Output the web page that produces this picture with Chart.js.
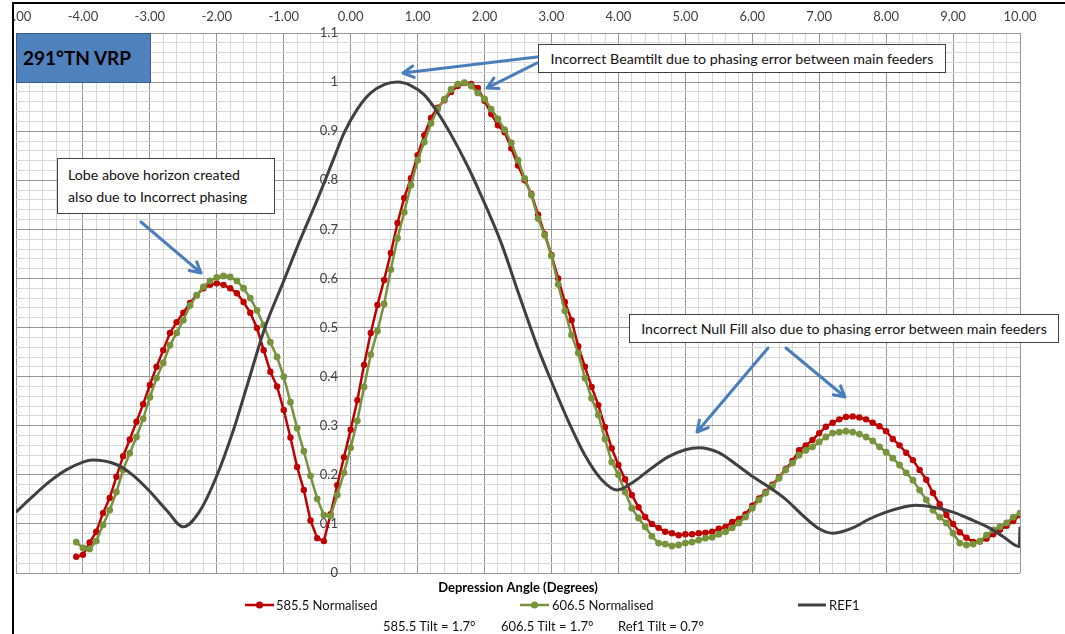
<!DOCTYPE html>
<html>
<head>
<meta charset="utf-8">
<title>291°TN VRP</title>
<script src="https://cdn.jsdelivr.net/npm/chart.js@4.4.1/dist/chart.umd.min.js"></script>
<style>
  html, body { margin: 0; padding: 0; background: #fff; }
  body { width: 1065px; height: 634px; overflow: hidden; position: relative; font-family: Lato, 'Open Sans', sans-serif; }
  #frame { position: absolute; left: 12px; top: 2px; width: 1060px; height: 640px; border-left: 2px solid #000; border-top: 2px solid #000; overflow: hidden; }
  #stage { position: absolute; left: -14px; top: -4px; width: 1065px; height: 634px; }
  #chart { position: absolute; left: 0; top: 0; }
  #overlay { position: absolute; left: 0; top: 0; pointer-events: none; }
  .box { position: absolute; background: #fff; border: 1px solid #404040; color: #111; font-size: 14.2px; white-space: nowrap; box-sizing: border-box; }
  .lbl { position: absolute; font-size: 13px; color: #111; white-space: nowrap; line-height: 16px; }
  #title { position: absolute; left: 16px; top: 33px; width: 135px; height: 50px; box-sizing: border-box;
           background: #4F81BD; border: 1px solid #385D8A; font-weight: bold; font-size: 19px; color: #000;
           line-height: 48px; padding-left: 6px; white-space: nowrap; }
</style>
</head>
<body>
<div id="frame">
  <div id="stage">
    <canvas id="chart" width="1065" height="634"></canvas>
    <div id="title">291°TN VRP</div>
    <div class="box" style="left:538px; top:44px; width:408px; height:29px; line-height:27px; text-align:center;">Incorrect Beamtilt due to phasing error between main feeders</div>
    <div class="box" style="left:57px; top:158px; width:218px; height:56px; line-height:22px; padding:5px 0 0 10px;">Lobe above horizon created<br>also due to Incorrect phasing</div>
    <div class="box" style="left:629px; top:314px; width:430px; height:29px; line-height:27px; text-align:center;">Incorrect Null Fill also due to phasing error between main feeders</div>
    <svg id="overlay" width="1065" height="634"></svg>
    <div class="lbl" style="left:276px; top:597px;">585.5 Normalised</div>
    <div class="lbl" style="left:552px; top:597px;">606.5 Normalised</div>
    <div class="lbl" style="left:829px; top:597px;">REF1</div>
    <div class="lbl" style="left:383px; top:618px;">585.5 Tilt = 1.7°</div>
    <div class="lbl" style="left:501px; top:618px;">606.5 Tilt = 1.7°</div>
    <div class="lbl" style="left:618px; top:618px;">Ref1 Tilt = 0.7°</div>
  </div>
</div>
<script>
// depression angles of the measured patterns (0.1 deg steps)
const angles = [
  -4.1, -4.0, -3.9, -3.8, -3.7, -3.6, -3.5, -3.4, -3.3, -3.2,
  -3.1, -3.0, -2.9, -2.8, -2.7, -2.6, -2.5, -2.4, -2.3, -2.2,
  -2.1, -2.0, -1.9, -1.8, -1.7, -1.6, -1.5, -1.4, -1.3, -1.2,
  -1.1, -1.0, -0.9, -0.8, -0.7, -0.6, -0.5, -0.4, -0.3, -0.2,
  -0.1, 0.0, 0.1, 0.2, 0.3, 0.4, 0.5, 0.6, 0.7, 0.8,
  0.9, 1.0, 1.1, 1.2, 1.3, 1.4, 1.5, 1.6, 1.7, 1.8,
  1.9, 2.0, 2.1, 2.2, 2.3, 2.4, 2.5, 2.6, 2.7, 2.8,
  2.9, 3.0, 3.1, 3.2, 3.3, 3.4, 3.5, 3.6, 3.7, 3.8,
  3.9, 4.0, 4.1, 4.2, 4.3, 4.4, 4.5, 4.6, 4.7, 4.8,
  4.9, 5.0, 5.1, 5.2, 5.3, 5.4, 5.5, 5.6, 5.7, 5.8,
  5.9, 6.0, 6.1, 6.2, 6.3, 6.4, 6.5, 6.6, 6.7, 6.8,
  6.9, 7.0, 7.1, 7.2, 7.3, 7.4, 7.5, 7.6, 7.7, 7.8,
  7.9, 8.0, 8.1, 8.2, 8.3, 8.4, 8.5, 8.6, 8.7, 8.8,
  8.9, 9.0, 9.1, 9.2, 9.3, 9.4, 9.5, 9.6, 9.7, 9.8,
  9.9, 10.0
];

// 585.5 Normalised
const norm585 = [
  0.033, 0.037, 0.062, 0.084, 0.122, 0.153, 0.196, 0.238, 0.272, 0.308,
  0.344, 0.383, 0.420, 0.454, 0.489, 0.511, 0.530, 0.550, 0.566, 0.580,
  0.587, 0.590, 0.587, 0.580, 0.570, 0.552, 0.530, 0.499, 0.454, 0.410,
  0.380, 0.332, 0.276, 0.216, 0.169, 0.107, 0.071, 0.065, 0.120, 0.179,
  0.236, 0.292, 0.352, 0.424, 0.489, 0.546, 0.597, 0.652, 0.713, 0.764,
  0.804, 0.851, 0.892, 0.927, 0.948, 0.963, 0.980, 0.992, 0.998, 0.996,
  0.988, 0.962, 0.935, 0.912, 0.898, 0.865, 0.830, 0.800, 0.772, 0.730,
  0.690, 0.648, 0.600, 0.552, 0.515, 0.462, 0.420, 0.379, 0.342, 0.297,
  0.254, 0.220, 0.191, 0.159, 0.134, 0.114, 0.100, 0.092, 0.084, 0.081,
  0.077, 0.079, 0.079, 0.081, 0.082, 0.084, 0.090, 0.094, 0.104, 0.110,
  0.120, 0.137, 0.152, 0.165, 0.180, 0.195, 0.212, 0.228, 0.250, 0.260,
  0.271, 0.285, 0.298, 0.306, 0.313, 0.318, 0.319, 0.317, 0.313, 0.306,
  0.299, 0.289, 0.273, 0.260, 0.245, 0.230, 0.210, 0.190, 0.163, 0.140,
  0.118, 0.100, 0.083, 0.072, 0.063, 0.064, 0.070, 0.079, 0.088, 0.096,
  0.106, 0.118
];

// 606.5 Normalised
const norm606 = [
  0.063, 0.051, 0.049, 0.065, 0.098, 0.128, 0.165, 0.210, 0.244, 0.277,
  0.314, 0.358, 0.397, 0.428, 0.464, 0.489, 0.515, 0.545, 0.566, 0.583,
  0.595, 0.602, 0.605, 0.603, 0.595, 0.580, 0.560, 0.535, 0.505, 0.470,
  0.440, 0.400, 0.348, 0.295, 0.248, 0.198, 0.151, 0.118, 0.116, 0.159,
  0.204, 0.255, 0.310, 0.379, 0.445, 0.493, 0.548, 0.618, 0.682, 0.735,
  0.790, 0.841, 0.878, 0.916, 0.945, 0.965, 0.985, 0.996, 0.999, 0.992,
  0.978, 0.966, 0.945, 0.925, 0.903, 0.876, 0.841, 0.804, 0.770, 0.722,
  0.688, 0.646, 0.588, 0.534, 0.485, 0.448, 0.397, 0.356, 0.322, 0.273,
  0.226, 0.200, 0.165, 0.132, 0.112, 0.094, 0.075, 0.061, 0.059, 0.055,
  0.057, 0.061, 0.063, 0.067, 0.071, 0.073, 0.079, 0.084, 0.092, 0.102,
  0.114, 0.132, 0.149, 0.163, 0.177, 0.193, 0.210, 0.224, 0.240, 0.250,
  0.257, 0.267, 0.277, 0.285, 0.287, 0.289, 0.287, 0.283, 0.277, 0.269,
  0.257, 0.246, 0.234, 0.220, 0.204, 0.189, 0.169, 0.149, 0.128, 0.114,
  0.102, 0.081, 0.061, 0.057, 0.059, 0.065, 0.077, 0.088, 0.094, 0.102,
  0.114, 0.122
];

// REF1 (smooth reference pattern)
const refAngles = [
  -5.0, -4.75, -4.5, -4.25, -4.0, -3.86, -3.5, -3.25, -3.0, -2.75,
  -2.5, -2.25, -2.0, -1.75, -1.54, -1.28, -1.0, -0.75, -0.5, -0.25,
  -0.1, 0.1, 0.3, 0.5, 0.7, 0.9, 1.1, 1.29, 1.5, 1.75,
  1.93, 2.25, 2.5, 2.81, 3.0, 3.25, 3.5, 3.75, 3.98, 4.25,
  4.5, 4.75, 5.0, 5.2, 5.5, 5.75, 6.0, 6.25, 6.5, 6.75,
  7.0, 7.2, 7.5, 7.75, 8.0, 8.25, 8.44, 8.75, 9.0, 9.25,
  9.54, 9.75, 9.99, 10.0
];
const refValues = [
  0.124, 0.156, 0.186, 0.210, 0.226, 0.230, 0.221, 0.199, 0.166, 0.128,
  0.094, 0.127, 0.198, 0.292, 0.385, 0.500, 0.595, 0.680, 0.760, 0.845,
  0.896, 0.945, 0.978, 0.995, 1.000, 0.993, 0.974, 0.940, 0.893, 0.828,
  0.775, 0.672, 0.573, 0.454, 0.390, 0.310, 0.240, 0.190, 0.169, 0.188,
  0.214, 0.237, 0.251, 0.255, 0.245, 0.222, 0.197, 0.175, 0.150, 0.118,
  0.090, 0.081, 0.092, 0.110, 0.124, 0.134, 0.138, 0.133, 0.124, 0.110,
  0.092, 0.074, 0.054, 0.094
];

// annotation arrows, page pixels [x1, y1, x2, y2]
const arrows = [
  [537, 57, 403, 73],
  [537, 63, 487, 88],
  [141, 222, 201, 273],
  [768, 348, 697, 432],
  [786, 348, 845, 397]
];

const RED = '#C00000';
const GREEN = '#77933C';
const GREY = '#404040';

const isWhole = (v) => Math.abs(v - Math.round(v)) < 1e-6;
const isTenth = (v) => Math.abs(v * 10 - Math.round(v * 10)) < 1e-6;
const pairs = (xs, ys) => xs.map((x, i) => ({ x, y: ys[i] }));

function drawOverlay() {
  const svg = document.getElementById('overlay');
  let html = '';
  arrows.forEach(([x1, y1, x2, y2]) => {
    const a = Math.atan2(y2 - y1, x2 - x1), L = 12, w = 0.5;
    const p1 = [x2 - L * Math.cos(a - w), y2 - L * Math.sin(a - w)];
    const p2 = [x2 - L * Math.cos(a + w), y2 - L * Math.sin(a + w)];
    html += `<path d="M${x1},${y1} L${x2},${y2} M${p1[0]},${p1[1]} L${x2},${y2} L${p2[0]},${p2[1]}"
      fill="none" stroke="#4A7EBB" stroke-width="3" stroke-linecap="round" stroke-linejoin="round"/>`;
  });
  // legend symbols
  html += `<line x1="245" y1="605" x2="274" y2="605" stroke="${RED}" stroke-width="2.5"/>
           <circle cx="259.5" cy="605" r="3.5" fill="${RED}"/>
           <line x1="520" y1="605" x2="549" y2="605" stroke="${GREEN}" stroke-width="2.5"/>
           <circle cx="534.5" cy="605" r="3.5" fill="${GREEN}"/>
           <line x1="798" y1="605" x2="826" y2="605" stroke="${GREY}" stroke-width="3"/>`;
  svg.innerHTML = html;
}

// keep the plot box at fixed pixels: edge labels may overhang
function noOverhang(s) {
  s.paddingLeft = 0;
  s.paddingRight = 0;
}

function drawChart() {
  const ctx = document.getElementById('chart').getContext('2d');
  const tickFont = { family: 'Lato', size: 13 };

  new Chart(ctx, {
    type: 'line',
    data: {
      datasets: [
        {
          label: '585.5 Normalised', data: pairs(angles, norm585),
          borderColor: RED, backgroundColor: RED, borderWidth: 2.5,
          pointRadius: 3.2, pointBorderWidth: 0, tension: 0, order: 2
        },
        {
          label: '606.5 Normalised', data: pairs(angles, norm606),
          borderColor: GREEN, backgroundColor: GREEN, borderWidth: 2.5,
          pointRadius: 3.4, pointBorderWidth: 0, tension: 0, order: 1
        },
        {
          label: 'REF1', data: pairs(refAngles, refValues),
          borderColor: GREY, borderWidth: 3, pointRadius: 0,
          cubicInterpolationMode: 'monotone', order: 0
        }
      ]
    },
    options: {
      responsive: false,
      animation: false,
      devicePixelRatio: 1,
      layout: { padding: { left: 16, right: 45, top: 0, bottom: 37 } },
      plugins: { legend: { display: false }, tooltip: { enabled: false } },
      scales: {
        x: {
          type: 'linear', position: 'top', min: -5, max: 10,
          afterFit: (s) => { s.height = 33; noOverhang(s); },
          ticks: {
            stepSize: 0.2, autoSkip: false, maxRotation: 0, padding: 8,
            color: GREY, font: tickFont,
            callback: (v) => isWhole(v) ? v.toFixed(2) : ''
          },
          grid: {
            drawTicks: false, lineWidth: 1,
            color: (c) => isWhole(c.tick.value) ? '#969696' : '#d9d9d9'
          },
          border: { display: false }
        },
        x2: {
          type: 'linear', position: 'bottom', min: -5, max: 10,
          afterFit: (s) => { s.height = 24; noOverhang(s); },
          ticks: { display: false },
          grid: { display: false, drawTicks: false },
          border: { display: false },
          title: {
            display: true, text: 'Depression Angle (Degrees)', color: '#000',
            font: { family: 'Lato', size: 13, weight: 'bold' }, padding: { top: 4, bottom: 1 }
          }
        },
        y: {
          type: 'linear', min: 0, max: 1.1, position: { x: -0.19 },
          ticks: {
            stepSize: 0.02, autoSkip: false, color: GREY, font: tickFont,
            callback: (v) => isTenth(v) ? String(Math.round(v * 10) / 10) : ''
          },
          grid: {
            drawTicks: false, lineWidth: 1,
            color: (c) => isTenth(c.tick.value) ? '#969696' : '#d9d9d9'
          },
          border: { display: false }
        }
      }
    }
  });
}

document.fonts.ready.then(() => {
  drawChart();
  drawOverlay();
});
</script>
</body>
</html>
